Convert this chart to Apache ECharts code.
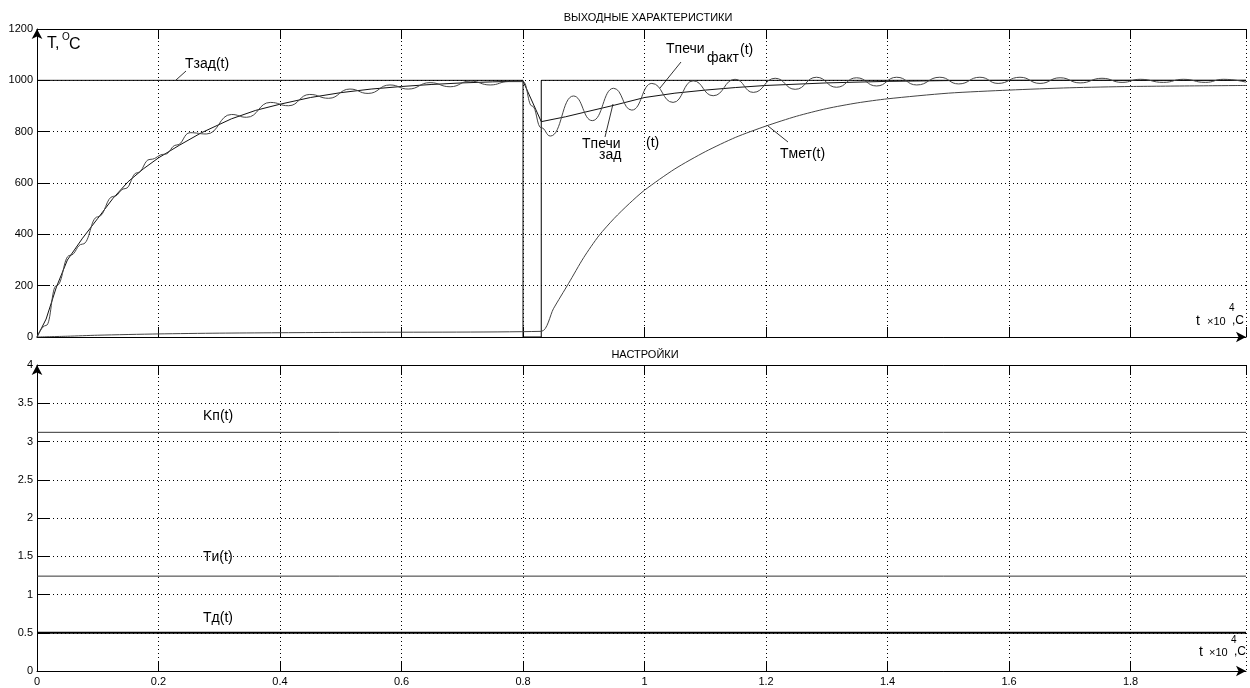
<!DOCTYPE html>
<html>
<head>
<meta charset="utf-8">
<script src="https://cdn.jsdelivr.net/npm/echarts@6/dist/echarts.min.js"></script>
<style>
  html, body { margin: 0; padding: 0; background: #fff; }
  #chart { width: 1250px; height: 688px; }
</style>
</head>
<body>
<div id="chart"></div>
<script>
// ось времени, t x10^4 c
var xTicks = [0, 0.2, 0.4, 0.6, 0.8, 1, 1.2, 1.4, 1.6, 1.8];

// Tзад(t)
var tZad = [0, 0.8, 0.8, 0.83, 0.83, 1.99];
var vZad = [1000, 1000, 0, 0, 1000, 1000];

// Tпечи зад(t)
var tPechZad = [0, 0.015, 0.032, 0.05, 0.075, 0.1, 0.125, 0.15, 0.175, 0.2, 0.235, 0.27, 0.32, 0.36, 0.4, 0.45, 0.5, 0.55, 0.6, 0.65, 0.7, 0.75, 0.8,
  0.83, 0.87, 0.9, 0.95, 1.0, 1.05, 1.1, 1.15, 1.2, 1.3, 1.4, 1.5, 1.6, 1.99];
var vPechZad = [0, 70, 195, 300, 385, 462, 540, 605, 655, 698, 748, 795, 850, 883, 907, 933, 952, 966, 976, 984, 990, 994, 997,
  839, 858, 875, 903, 933, 950, 962, 972, 980, 990, 996, 999, 1000, 1000];

// Tпечи факт(t)
var tPechFakt = [0, 0.015, 0.032, 0.054, 0.075, 0.1, 0.126, 0.145, 0.165, 0.186, 0.21, 0.23, 0.252, 0.279, 0.32, 0.345, 0.384, 0.414,
  0.449, 0.48, 0.515, 0.545, 0.581, 0.611, 0.647, 0.68, 0.713, 0.746, 0.776, 0.8, 0.815, 0.83, 0.845, 0.883, 0.914, 0.949, 0.979,
  1.012, 1.047, 1.08, 1.113, 1.149, 1.179, 1.215, 1.248, 1.283, 1.316, 1.349, 1.382, 1.415, 1.448, 1.486, 1.517, 1.552, 1.582,
  1.618, 1.651, 1.684, 1.717, 1.753, 1.786, 1.816, 1.854, 1.887, 1.923, 1.953, 1.99];
var vPechFakt = [0, 45, 200, 318, 362, 468, 548, 578, 640, 692, 712, 748, 796, 791, 867, 856, 914, 901,
  945, 930, 966, 949, 982, 966, 991, 975, 997, 982, 995, 995, 900, 815, 783, 939, 843, 969, 884,
  988, 914, 998, 940, 1004, 953, 1008, 965, 1012, 973, 1010, 978, 1012, 982, 1012, 986, 1012, 988,
  1012, 988, 1010, 990, 1008, 992, 1004, 992, 1004, 992, 1004, 993];

// Tмет(t)
var tMet = [0, 0.05, 0.1, 0.2, 0.3, 0.5, 0.83, 0.85, 0.875, 0.9, 0.925, 0.95, 0.975, 1.0, 1.05, 1.1, 1.15, 1.2, 1.25, 1.3, 1.35,
  1.4, 1.5, 1.6, 1.7, 1.8, 1.99];
var vMet = [0, 3, 7, 12, 15, 18, 22, 110, 209, 310, 395, 462, 520, 572, 655, 722, 778, 822, 860, 890, 912,
  928, 950, 962, 971, 976, 980];

// настройки регулятора
var tSet = [0, 1.99];
var vKp = [3.12, 3.12];
var vTi = [1.24, 1.24];
var vTd = [0.5, 0.5];

function pairs(t, v) {
  return t.map(function (x, i) { return [x, v[i]]; });
}

var chart = echarts.init(document.getElementById('chart'));

var FONT = 'Liberation Sans, Arial, sans-serif';
var dotted = { show: true, lineStyle: { color: '#000', width: 1, type: [1, 3] } };

function bottomX(grid, labels) {
  return {
    gridIndex: grid, type: 'value', min: 0, max: 1.99, interval: 0.2,
    axisLine: { show: true, symbol: ['none', 'arrow'], symbolSize: [8, 10], lineStyle: { color: '#000', width: 1 } },
    axisTick: { show: true, inside: true, length: 10, lineStyle: { color: '#000' } },
    axisLabel: { show: labels, showMaxLabel: false, color: '#000', fontSize: 11, fontFamily: FONT, margin: 5,
      formatter: function (v) { return String(v); } },
    splitLine: dotted
  };
}
function topX(grid) {
  return {
    gridIndex: grid, type: 'value', position: 'top', min: 0, max: 1.99, interval: 0.2,
    axisLine: { show: true, onZero: false, lineStyle: { color: '#000', width: 1 } },
    axisTick: { show: true, inside: true, length: 10, lineStyle: { color: '#000' } },
    axisLabel: { show: false },
    splitLine: { show: false }
  };
}
function leftY(grid, max, interval) {
  return {
    gridIndex: grid, type: 'value', min: 0, max: max, interval: interval,
    axisLine: { show: true, symbol: ['none', 'arrow'], symbolSize: [8, 10], lineStyle: { color: '#000', width: 1 } },
    axisTick: { show: true, inside: true, length: 12, lineStyle: { color: '#000' } },
    axisLabel: { color: '#000', fontSize: 11, fontFamily: FONT, margin: 4,
      formatter: function (v) { return String(v); } },
    splitLine: dotted
  };
}

function line(name, x, y, data, color, width, smooth, mono) {
  var s = {
    name: name, type: 'line', xAxisIndex: x, yAxisIndex: y, data: data,
    showSymbol: false, smooth: smooth, animation: false,
    lineStyle: { color: color, width: width }
  };
  if (mono) s.smoothMonotone = 'x';
  return s;
}

function txt(x, y, s, size) {
  return { type: 'text', x: x, y: y, style: { text: s, fill: '#000', font: size + 'px ' + FONT, verticalAlign: 'middle' } };
}
function lead(x1, y1, x2, y2) {
  return { type: 'line', shape: { x1: x1, y1: y1, x2: x2, y2: y2 }, style: { stroke: '#333', lineWidth: 1 } };
}

chart.setOption({
  backgroundColor: '#fff',
  animation: false,
  title: [
    { text: 'ВЫХОДНЫЕ ХАРАКТЕРИСТИКИ', left: 643, top: 7, textAlign: 'center',
      textStyle: { fontSize: 11, fontWeight: 'normal', color: '#000', fontFamily: FONT } },
    { text: 'НАСТРОЙКИ', left: 640, top: 344, textAlign: 'center',
      textStyle: { fontSize: 11, fontWeight: 'normal', color: '#000', fontFamily: FONT } }
  ],
  grid: [
    { left: 37, top: 29, width: 1209, height: 308 },
    { left: 37, top: 365, width: 1209, height: 306 }
  ],
  xAxis: [bottomX(0, false), topX(0), bottomX(1, true), topX(1)],
  yAxis: [leftY(0, 1200, 200), leftY(1, 4, 0.5)],
  series: [
    line('Tзад', 0, 0, pairs(tZad, vZad), '#000', 1, false),
    line('Tпечи зад', 0, 0, pairs(tPechZad, vPechZad), '#111', 1, false),
    line('Tпечи факт', 0, 0, pairs(tPechFakt, vPechFakt), '#444', 1, 0.5, true),
    line('Tмет', 0, 0, pairs(tMet, vMet), '#444', 1, 0.25),
    line('Kп', 2, 1, pairs(tSet, vKp), '#333', 1, false),
    line('Tи', 2, 1, pairs(tSet, vTi), '#333', 1, false),
    line('Tд', 2, 1, pairs(tSet, vTd), '#000', 2, false)
  ],
  graphic: [
    txt(47, 44, 'T,', 16), txt(62, 37, 'O', 10), txt(69, 45, 'C', 16),
    txt(185, 64, 'Tзад(t)', 14), lead(176, 80, 186, 71),
    txt(666, 49, 'Tпечи', 14), txt(707, 58, 'факт', 14), txt(740, 50, '(t)', 14), lead(681, 62, 660, 88),
    txt(582, 144, 'Tпечи', 14), txt(599, 155, 'зад', 14), txt(646, 143, '(t)', 14), lead(605, 137, 613, 104),
    txt(780, 154, 'Tмет(t)', 14), lead(768, 126, 788, 142),
    txt(1196, 321, 't', 14), txt(1207, 322, '×10', 11), txt(1229, 308, '4', 10), txt(1232, 321, ',C', 12),
    txt(1199, 652, 't', 14), txt(1209, 653, '×10', 11), txt(1231, 640, '4', 10), txt(1234, 652, ',C', 12),
    txt(203, 416, 'Kп(t)', 14), txt(203, 557, 'Tи(t)', 14), txt(203, 618, 'Tд(t)', 14)
  ]
});
</script>
</body>
</html>
